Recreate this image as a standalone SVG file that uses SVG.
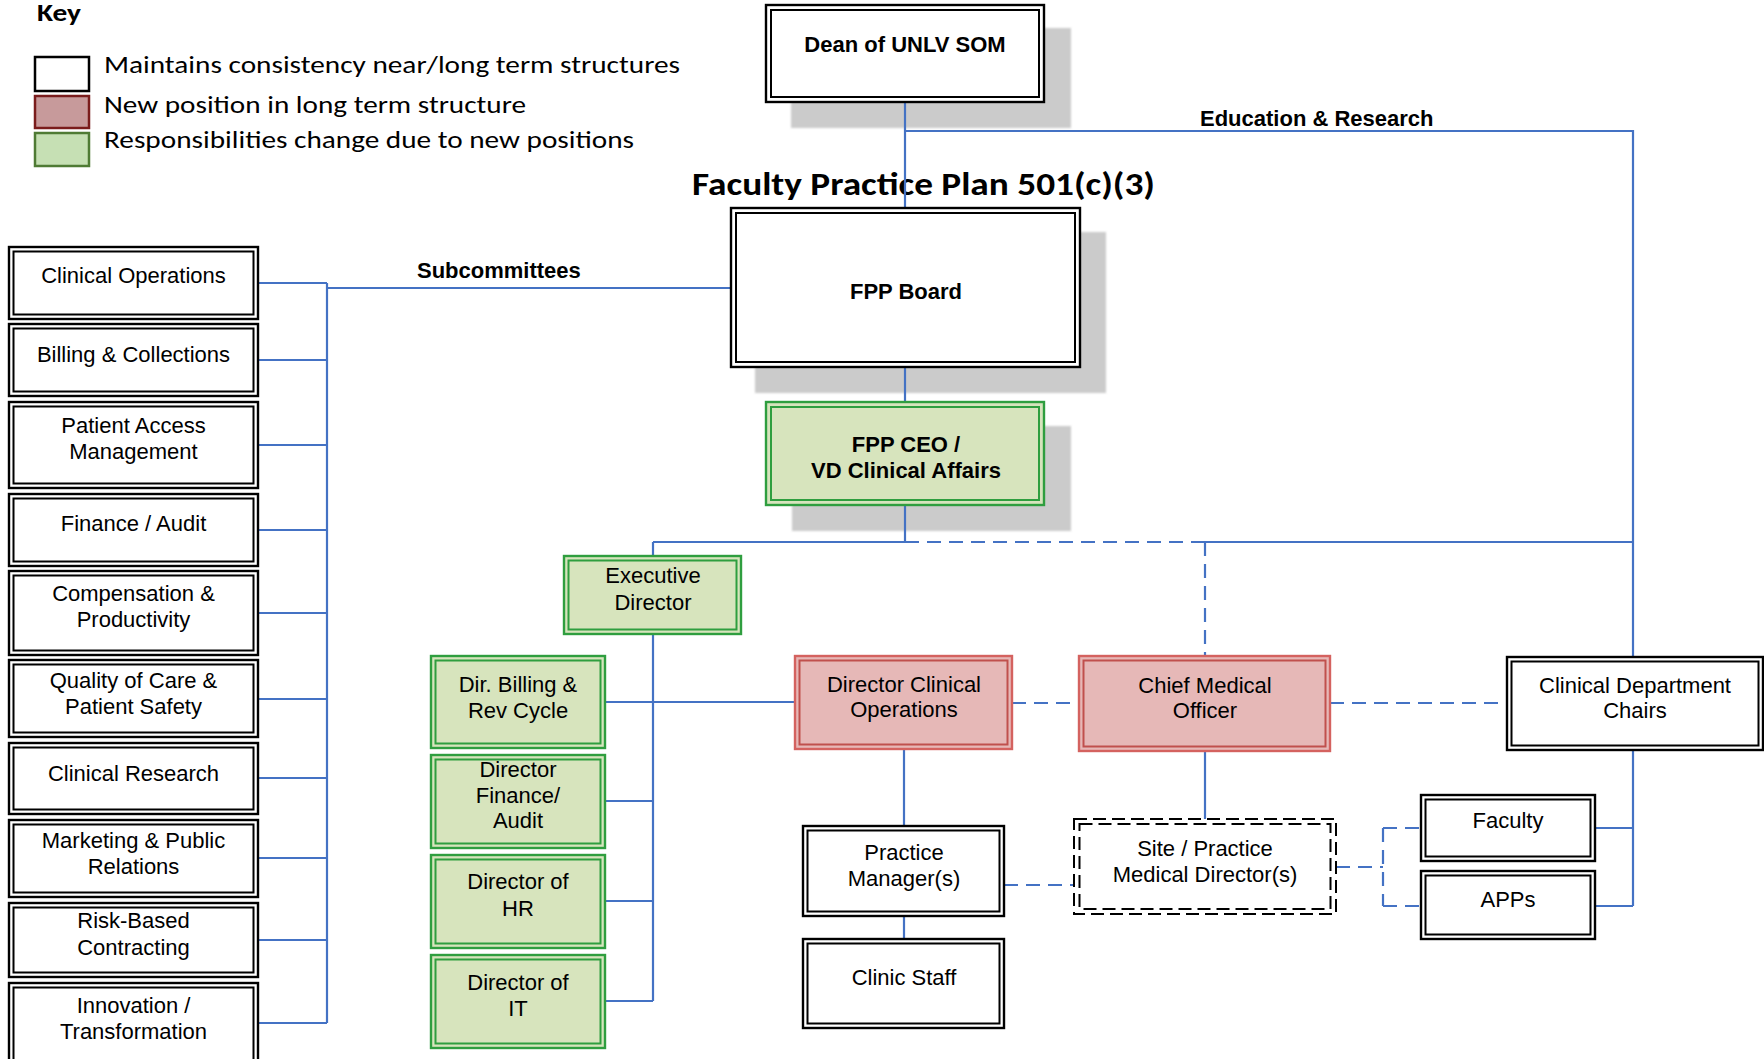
<svg xmlns="http://www.w3.org/2000/svg" width="1764" height="1059" viewBox="0 0 1764 1059">
  <style>
    .node text, .lbl { font-family: "Liberation Sans", Arial, sans-serif; font-size: 22px; fill: #000; text-anchor: middle; }
    .bold { font-weight: bold; }
    .cal { font-family: Carlito, "Open Sans", sans-serif; fill: #000; }
    .w .o, .w .i { fill: none; stroke: #000; }
    .w .bg { fill: #fff; }
    .g .bg { fill: #D7E4BD; }
    .g .o, .g .i { fill: none; stroke: #2F9E3F; }
    .r .bg { fill: #E6B8B7; }
    .r .o { fill: none; stroke: #D4625F; }
    .r .i { fill: none; stroke: #C0504D; }
    .o { stroke-width: 2.4; }
    .i { stroke-width: 2; }
    .d .o, .d .i { fill: none; stroke: #000; stroke-width: 2; stroke-dasharray: 13 6; }
    .shadow { fill: #CBCBCB; filter: url(#soft); }
    #connectors path { fill: none; stroke: #4472C4; stroke-width: 2.2; }
    #connectors path.dash { stroke-dasharray: 14 8; }
  </style>
  <defs>
    <filter id="soft" x="-5%" y="-5%" width="110%" height="110%">
      <feGaussianBlur stdDeviation="1.2"/>
    </filter>
  </defs>
  <rect width="1764" height="1059" fill="#fff"/>

  <!-- Legend -->
  <g id="key">
    <text class="cal" x="37" y="21" font-size="25" font-weight="bold" textLength="44" lengthAdjust="spacingAndGlyphs">Key</text>
    <rect x="35" y="57" width="54" height="34" fill="#fff" stroke="#000" stroke-width="2.5"/>
    <rect x="35" y="96" width="54" height="32" fill="#C79A9B" stroke="#7A1C1C" stroke-width="2.5"/>
    <rect x="35" y="133" width="54" height="33" fill="#C6E0B4" stroke="#4F7B34" stroke-width="2.5"/>
    <text class="cal" x="104" y="73" font-size="25" textLength="576" lengthAdjust="spacingAndGlyphs">Maintains consistency near/long term structures</text>
    <text class="cal" x="104" y="113" font-size="25" textLength="422" lengthAdjust="spacingAndGlyphs">New position in long term structure</text>
    <text class="cal" x="104" y="148" font-size="25" textLength="530" lengthAdjust="spacingAndGlyphs">Responsibilities change due to new positions</text>
  </g>

  <text id="title" class="cal" x="692" y="195" font-size="33" font-weight="bold" textLength="463" lengthAdjust="spacingAndGlyphs">Faculty Practice Plan 501(c)(3)</text>

  <!-- Shadows -->
  <rect class="shadow" x="791" y="28" width="280" height="100"/>
  <rect class="shadow" x="755" y="232" width="351" height="161"/>
  <rect class="shadow" x="792" y="426" width="279" height="105"/>

  <!-- Connectors -->
  <g id="connectors">
    <path d="M905 102 V208"/>
    <path d="M905 131 H1633 V657"/>
    <path d="M905 367 V402"/>
    <path d="M731 288 H327"/>
    <path d="M327 283 V1023"/>
    <path d="M258 283 H327 M258 360 H327 M258 445 H327 M258 530 H327 M258 613 H327 M258 699 H327 M258 778 H327 M258 858 H327 M258 940 H327 M258 1023 H327"/>
    <path d="M905 505 V542"/>
    <path d="M653 542 H905"/>
    <path class="dash" d="M905 542 H1205"/>
    <path d="M1205 542 H1633"/>
    <path d="M653 542 V556"/>
    <path d="M653 634 V1001"/>
    <path d="M605 702 H795 M605 801 H653 M605 901 H653 M605 1001 H653"/>
    <path d="M904 749 V826"/>
    <path d="M904 916 V939"/>
    <path class="dash" d="M1012 703 H1079"/>
    <path class="dash" d="M1330 703 H1507"/>
    <path class="dash" d="M1205 542 V656"/>
    <path d="M1205 751 V819"/>
    <path class="dash" d="M1004 885 H1074"/>
    <path class="dash" d="M1336 867 H1383 M1383 828 V906 M1383 828 H1421 M1383 906 H1421"/>
    <path d="M1633 750 V906 M1595 828 H1633 M1595 906 H1633"/>
  </g>

  <!-- Connector labels -->
  <text class="lbl bold" x="417" y="278" style="text-anchor:start">Subcommittees</text>
  <text class="lbl bold" x="1200" y="126" style="text-anchor:start">Education &amp; Research</text>

  <!-- Top chain -->
  <g id="dean" class="node w">
    <rect class="bg" x="766" y="5" width="278" height="97"/>
    <rect class="o" x="766" y="5" width="278" height="97"/>
    <rect class="i" x="771" y="10" width="268" height="87"/>
    <text class="bold" x="905" y="52">Dean of UNLV SOM</text>
  </g>
  <g id="fpp-board" class="node w">
    <rect class="bg" x="731" y="208" width="349" height="159"/>
    <rect class="o" x="731" y="208" width="349" height="159"/>
    <rect class="i" x="736" y="213" width="339" height="149"/>
    <text class="bold" x="906" y="299">FPP Board</text>
  </g>
  <g id="fpp-ceo" class="node g">
    <rect class="bg" x="766" y="402" width="278" height="103"/>
    <rect class="o" x="766" y="402" width="278" height="103"/>
    <rect class="i" x="771" y="407" width="268" height="93"/>
    <text class="bold" x="906" y="452">FPP CEO /</text>
    <text class="bold" x="906" y="478">VD Clinical Affairs</text>
  </g>

  <!-- Subcommittees -->
  <g id="sub-clinical-operations" class="node w">
    <rect class="bg" x="9" y="247" width="249" height="72"/>
    <rect class="o" x="9" y="247" width="249" height="72"/>
    <rect class="i" x="13.5" y="251.5" width="240" height="63"/>
    <text x="133.5" y="283">Clinical Operations</text>
  </g>
  <g id="sub-billing" class="node w">
    <rect class="bg" x="9" y="324" width="249" height="72"/>
    <rect class="o" x="9" y="324" width="249" height="72"/>
    <rect class="i" x="13.5" y="328.5" width="240" height="63"/>
    <text x="133.5" y="362">Billing &amp; Collections</text>
  </g>
  <g id="sub-patient-access" class="node w">
    <rect class="bg" x="9" y="402" width="249" height="86"/>
    <rect class="o" x="9" y="402" width="249" height="86"/>
    <rect class="i" x="13.5" y="406.5" width="240" height="77"/>
    <text x="133.5" y="433">Patient Access</text>
    <text x="133.5" y="459">Management</text>
  </g>
  <g id="sub-finance" class="node w">
    <rect class="bg" x="9" y="494" width="249" height="72"/>
    <rect class="o" x="9" y="494" width="249" height="72"/>
    <rect class="i" x="13.5" y="498.5" width="240" height="63"/>
    <text x="133.5" y="531">Finance / Audit</text>
  </g>
  <g id="sub-compensation" class="node w">
    <rect class="bg" x="9" y="571" width="249" height="84"/>
    <rect class="o" x="9" y="571" width="249" height="84"/>
    <rect class="i" x="13.5" y="575.5" width="240" height="75"/>
    <text x="133.5" y="601">Compensation &amp;</text>
    <text x="133.5" y="627">Productivity</text>
  </g>
  <g id="sub-quality" class="node w">
    <rect class="bg" x="9" y="660" width="249" height="77"/>
    <rect class="o" x="9" y="660" width="249" height="77"/>
    <rect class="i" x="13.5" y="664.5" width="240" height="68"/>
    <text x="133.5" y="688">Quality of Care &amp;</text>
    <text x="133.5" y="714">Patient Safety</text>
  </g>
  <g id="sub-research" class="node w">
    <rect class="bg" x="9" y="743" width="249" height="71"/>
    <rect class="o" x="9" y="743" width="249" height="71"/>
    <rect class="i" x="13.5" y="747.5" width="240" height="62"/>
    <text x="133.5" y="781">Clinical Research</text>
  </g>
  <g id="sub-marketing" class="node w">
    <rect class="bg" x="9" y="820" width="249" height="77"/>
    <rect class="o" x="9" y="820" width="249" height="77"/>
    <rect class="i" x="13.5" y="824.5" width="240" height="68"/>
    <text x="133.5" y="848">Marketing &amp; Public</text>
    <text x="133.5" y="874">Relations</text>
  </g>
  <g id="sub-risk" class="node w">
    <rect class="bg" x="9" y="903" width="249" height="74"/>
    <rect class="o" x="9" y="903" width="249" height="74"/>
    <rect class="i" x="13.5" y="907.5" width="240" height="65"/>
    <text x="133.5" y="928">Risk-Based</text>
    <text x="133.5" y="955">Contracting</text>
  </g>
  <g id="sub-innovation" class="node w">
    <rect class="bg" x="9" y="983" width="249" height="84"/>
    <rect class="o" x="9" y="983" width="249" height="84"/>
    <rect class="i" x="13.5" y="987.5" width="240" height="75"/>
    <text x="133.5" y="1013">Innovation /</text>
    <text x="133.5" y="1039">Transformation</text>
  </g>

  <!-- Executive branch -->
  <g id="executive-director" class="node g">
    <rect class="bg" x="564" y="556" width="177" height="78"/>
    <rect class="o" x="564" y="556" width="177" height="78"/>
    <rect class="i" x="568.5" y="560.5" width="168" height="69"/>
    <text x="653" y="583">Executive</text>
    <text x="653" y="610">Director</text>
  </g>
  <g id="dir-billing" class="node g">
    <rect class="bg" x="431" y="656" width="174" height="92"/>
    <rect class="o" x="431" y="656" width="174" height="92"/>
    <rect class="i" x="435.5" y="660.5" width="165" height="83"/>
    <text x="518" y="692">Dir. Billing &amp;</text>
    <text x="518" y="718">Rev Cycle</text>
  </g>
  <g id="dir-finance" class="node g">
    <rect class="bg" x="431" y="755" width="174" height="93"/>
    <rect class="o" x="431" y="755" width="174" height="93"/>
    <rect class="i" x="435.5" y="759.5" width="165" height="84"/>
    <text x="518" y="777">Director</text>
    <text x="518" y="803">Finance/</text>
    <text x="518" y="828">Audit</text>
  </g>
  <g id="dir-hr" class="node g">
    <rect class="bg" x="431" y="855" width="174" height="93"/>
    <rect class="o" x="431" y="855" width="174" height="93"/>
    <rect class="i" x="435.5" y="859.5" width="165" height="84"/>
    <text x="518" y="889">Director of</text>
    <text x="518" y="916">HR</text>
  </g>
  <g id="dir-it" class="node g">
    <rect class="bg" x="431" y="955" width="174" height="93"/>
    <rect class="o" x="431" y="955" width="174" height="93"/>
    <rect class="i" x="435.5" y="959.5" width="165" height="84"/>
    <text x="518" y="990">Director of</text>
    <text x="518" y="1016">IT</text>
  </g>

  <!-- Clinical branch -->
  <g id="dir-clinical-ops" class="node r">
    <rect class="bg" x="795" y="656" width="217" height="93"/>
    <rect class="o" x="795" y="656" width="217" height="93"/>
    <rect class="i" x="799.5" y="660.5" width="208" height="84"/>
    <text x="904" y="692">Director Clinical</text>
    <text x="904" y="717">Operations</text>
  </g>
  <g id="practice-manager" class="node w">
    <rect class="bg" x="803" y="826" width="201" height="90"/>
    <rect class="o" x="803" y="826" width="201" height="90"/>
    <rect class="i" x="807.5" y="830.5" width="192" height="81"/>
    <text x="904" y="860">Practice</text>
    <text x="904" y="886">Manager(s)</text>
  </g>
  <g id="clinic-staff" class="node w">
    <rect class="bg" x="803" y="939" width="201" height="89"/>
    <rect class="o" x="803" y="939" width="201" height="89"/>
    <rect class="i" x="807.5" y="943.5" width="192" height="80"/>
    <text x="904" y="985">Clinic Staff</text>
  </g>
  <g id="cmo" class="node r">
    <rect class="bg" x="1079" y="656" width="251" height="95"/>
    <rect class="o" x="1079" y="656" width="251" height="95"/>
    <rect class="i" x="1083.5" y="660.5" width="242" height="86"/>
    <text x="1205" y="693">Chief Medical</text>
    <text x="1205" y="718">Officer</text>
  </g>
  <g id="site-medical-director" class="node d">
    <rect x="1074" y="819" width="262" height="95" fill="#fff"/>
    <rect class="o" x="1074" y="819" width="262" height="95"/>
    <rect class="i" x="1079.5" y="824" width="251" height="85"/>
    <text x="1205" y="856">Site / Practice</text>
    <text x="1205" y="882">Medical Director(s)</text>
  </g>
  <g id="dept-chairs" class="node w">
    <rect class="bg" x="1507" y="657" width="256" height="93"/>
    <rect class="o" x="1507" y="657" width="256" height="93"/>
    <rect class="i" x="1511.5" y="661.5" width="247" height="84"/>
    <text x="1635" y="693">Clinical Department</text>
    <text x="1635" y="718">Chairs</text>
  </g>
  <g id="faculty" class="node w">
    <rect class="bg" x="1421" y="795" width="174" height="66"/>
    <rect class="o" x="1421" y="795" width="174" height="66"/>
    <rect class="i" x="1425.5" y="799.5" width="165" height="57"/>
    <text x="1508" y="828">Faculty</text>
  </g>
  <g id="apps" class="node w">
    <rect class="bg" x="1421" y="871" width="174" height="68"/>
    <rect class="o" x="1421" y="871" width="174" height="68"/>
    <rect class="i" x="1425.5" y="875.5" width="165" height="59"/>
    <text x="1508" y="907">APPs</text>
  </g>
</svg>
